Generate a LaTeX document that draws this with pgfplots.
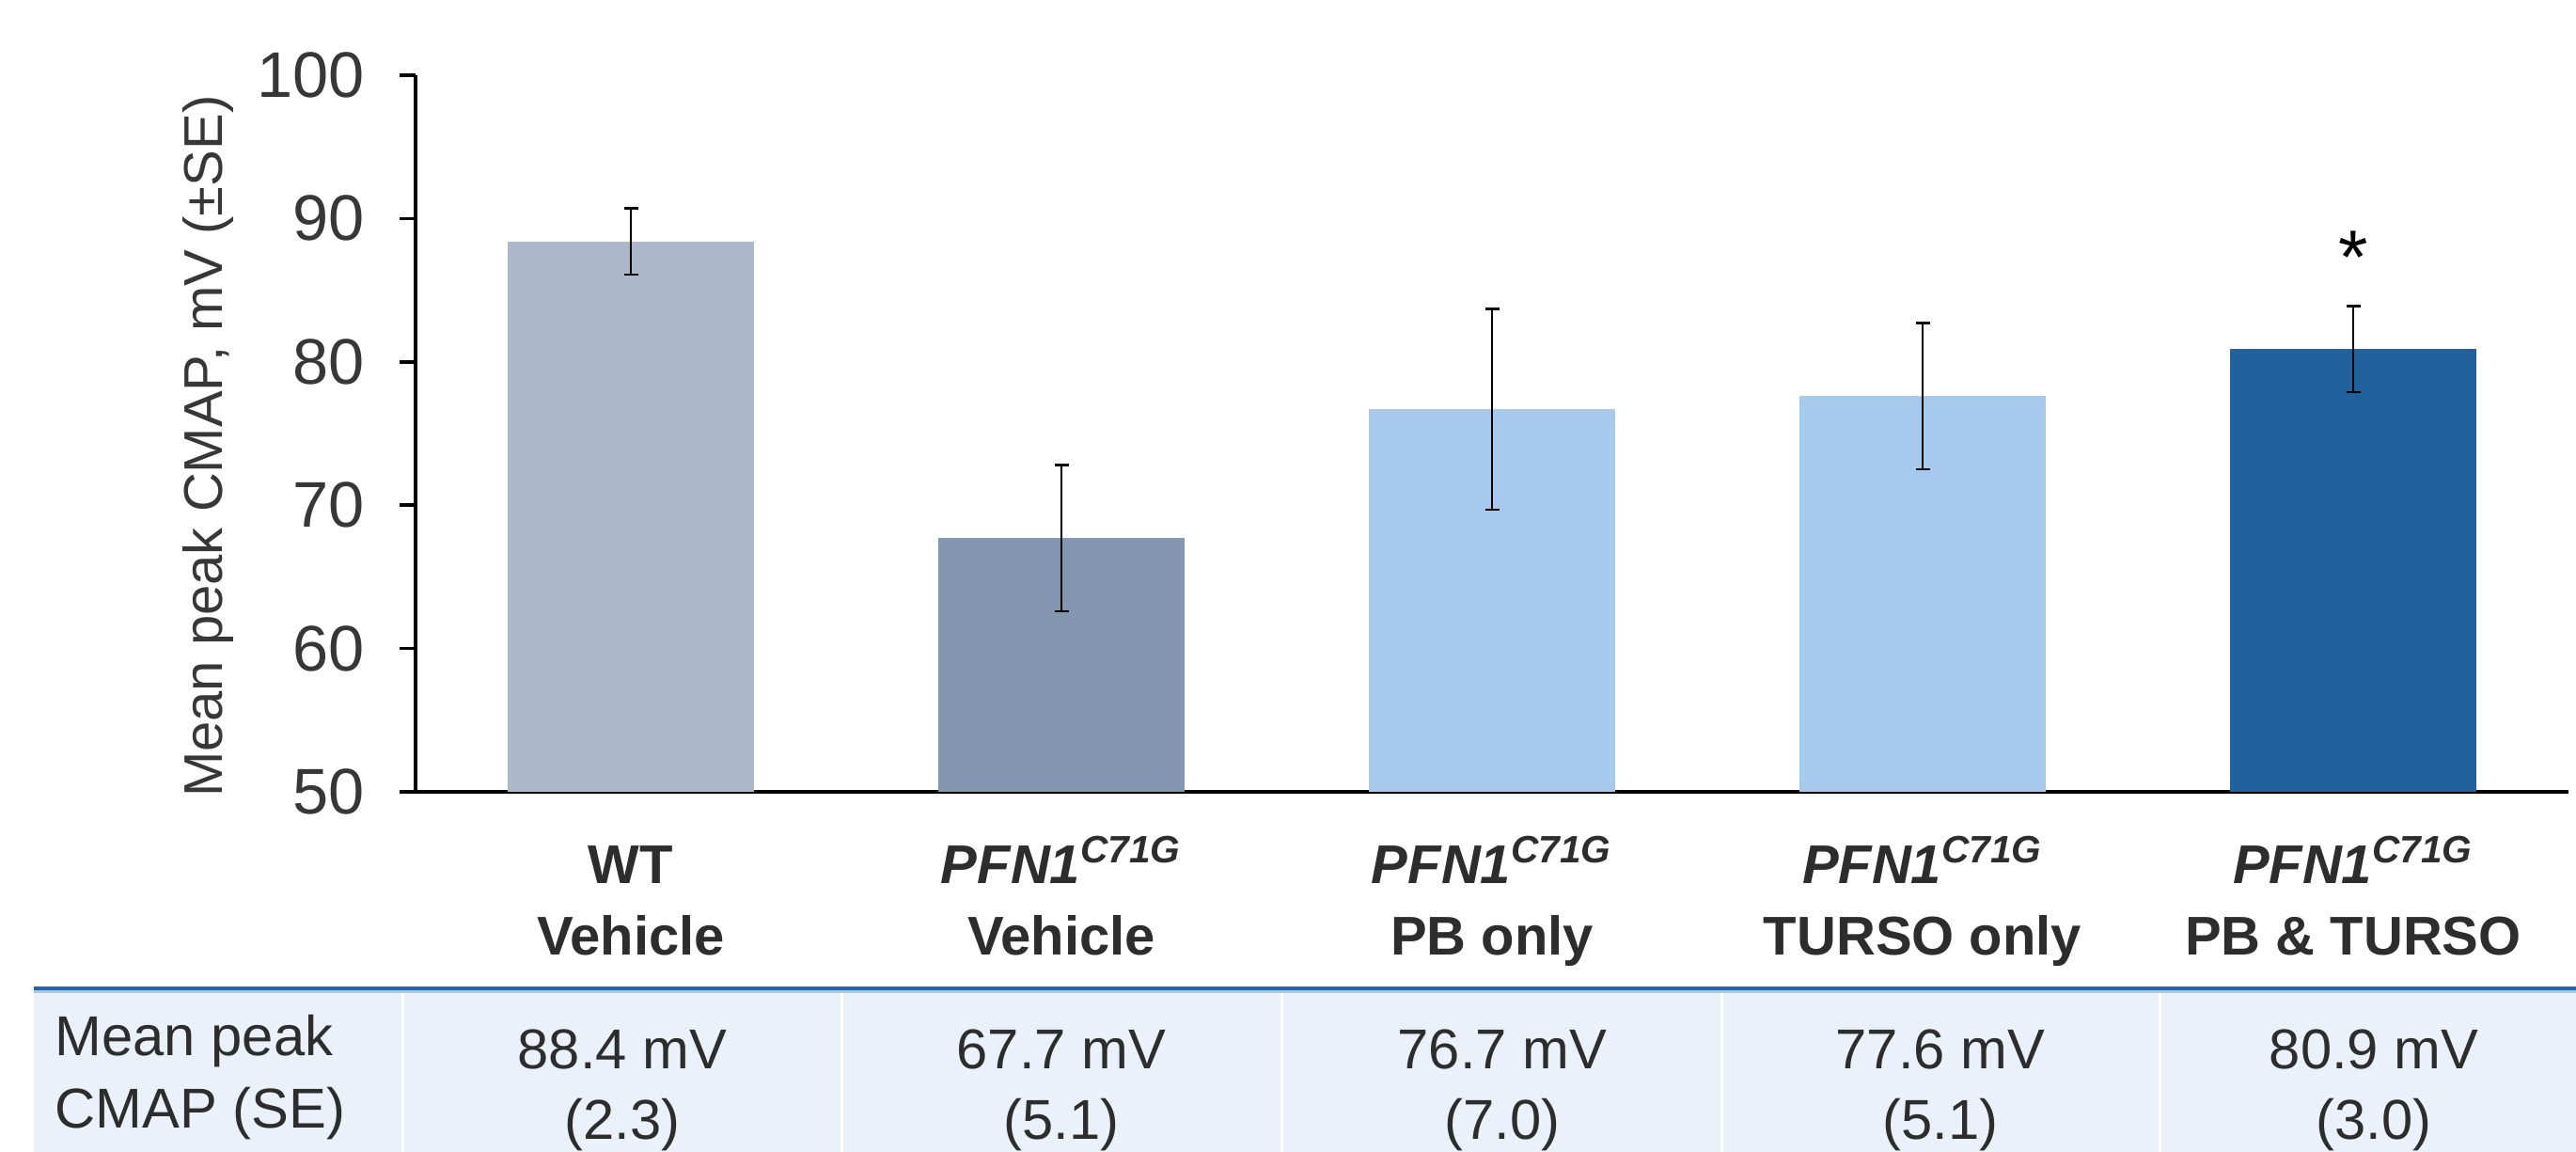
\documentclass[border=0pt]{standalone}
\usepackage{fontspec}
\setmainfont{Liberation Sans}
\setsansfont{Liberation Sans}
\usepackage{pgfplots}
\pgfplotsset{compat=1.18}

\definecolor{barA}{RGB}{173,185,202}
\definecolor{barB}{RGB}{132,151,176}
\definecolor{barC}{RGB}{167,201,237}
\definecolor{barD}{RGB}{33,97,158}
\definecolor{tblbg}{RGB}{234,241,250}
\definecolor{tblline}{RGB}{38,100,168}
\definecolor{txt}{RGB}{45,45,45}
\definecolor{ticktxt}{RGB}{55,55,55}

\newcommand{\catlab}[2]{\begin{tabular}[t]{@{}c@{}}#1\\#2\end{tabular}}
\newcommand{\pfn}{\textbf{\textit{PFN1}}\textsuperscript{\textbf{\textit{C71G}}}}
\newcommand{\fs}{\fontsize{16.5}{21.6}\selectfont}
\newcommand{\ft}{\fontsize{17}{21.6}\selectfont}

\begin{document}
\begin{tikzpicture}
\useasboundingbox (0,0) rectangle (274mm,122.5mm);
% table
\fill[tblbg] (3.6mm,0) rectangle (274mm,17.2mm);
\foreach \x in {42.8,89.5,136.3,183.1,229.7}
  \fill[white] (\x mm-0.15mm,0) rectangle (\x mm+0.15mm,17.2mm);
\draw[line width=0.25mm, barC] (3.6mm,17.05mm) -- (274mm,17.05mm);
\draw[line width=0.4mm, tblline] (3.6mm,17.4mm) -- (274mm,17.4mm);
\begin{scope}[every node/.style={text=txt, font=\ft, inner sep=0pt}]
\node[anchor=base west] at (5.8mm,10.2mm) {Mean peak};
\node[anchor=base west] at (5.8mm,2.5mm) {CMAP (SE)};
\node[anchor=base] at (66.2mm,8.8mm) {88.4 mV};
\node[anchor=base] at (66.2mm,1.3mm) {(2.3)};
\node[anchor=base] at (112.9mm,8.8mm) {67.7 mV};
\node[anchor=base] at (112.9mm,1.3mm) {(5.1)};
\node[anchor=base] at (159.8mm,8.8mm) {76.7 mV};
\node[anchor=base] at (159.8mm,1.3mm) {(7.0)};
\node[anchor=base] at (206.4mm,8.8mm) {77.6 mV};
\node[anchor=base] at (206.4mm,1.3mm) {(5.1)};
\node[anchor=base] at (252.5mm,8.8mm) {80.9 mV};
\node[anchor=base] at (252.5mm,1.3mm) {(3.0)};
\end{scope}

\begin{axis}[
  at={(44.2mm,38.3mm)}, anchor=south west,
  scale only axis, width=229mm, height=76.2mm,
  xmin=-0.5, xmax=4.5, ymin=50, ymax=100,
  ytick={50,60,70,80,90,100},
  xtick={0,1,2,3,4},
  xticklabels={{\catlab{\textbf{WT}}{\textbf{Vehicle}}},
               {\catlab{\pfn}{\textbf{Vehicle}}},
               {\catlab{\pfn}{\textbf{PB only}}},
               {\catlab{\pfn}{\textbf{TURSO only}}},
               {\catlab{\pfn}{\textbf{PB \& TURSO}}}},
  axis x line*=bottom, axis y line*=left,
  axis line style={-, line width=0.35mm, black},
  tick align=outside,
  major tick length=1.7mm,
  ytick style={line width=0.35mm, black},
  xtick style={draw=none},
  /pgf/number format/assume math mode=true,
  yticklabel style={font=\fontsize{19.5}{22}\selectfont, text=ticktxt, xshift=-2.5mm},
  xticklabel style={font=\fs, text=txt, anchor=base, yshift=-8.1mm},
  ylabel={Mean peak CMAP, mV (\textpm SE)},
  ylabel style={font=\fs, text=ticktxt, at={(axis description cs:-0.0965,0.482)}, anchor=center},
  ybar, bar width=26.2mm,
  clip=false,
]
\addplot[fill=barA, draw=none, bar shift=0pt,
  error bars/.cd, y dir=both, y explicit,
  error bar style={line width=0.25mm, black},
  error mark options={rotate=90, mark size=0.75mm, line width=0.25mm, black}]
  coordinates {(0,88.4) +- (0,2.3)};
\addplot[fill=barB, draw=none, bar shift=0pt,
  error bars/.cd, y dir=both, y explicit,
  error bar style={line width=0.25mm, black},
  error mark options={rotate=90, mark size=0.75mm, line width=0.25mm, black}]
  coordinates {(1,67.7) +- (0,5.1)};
\addplot[fill=barC, draw=none, bar shift=0pt,
  error bars/.cd, y dir=both, y explicit,
  error bar style={line width=0.25mm, black},
  error mark options={rotate=90, mark size=0.75mm, line width=0.25mm, black}]
  coordinates {(2,76.7) +- (0,7.0)};
\addplot[fill=barC, draw=none, bar shift=0pt,
  error bars/.cd, y dir=both, y explicit,
  error bar style={line width=0.25mm, black},
  error mark options={rotate=90, mark size=0.75mm, line width=0.25mm, black}]
  coordinates {(3,77.6) +- (0,5.1)};
\addplot[fill=barD, draw=none, bar shift=0pt,
  error bars/.cd, y dir=both, y explicit,
  error bar style={line width=0.25mm, black},
  error mark options={rotate=90, mark size=0.75mm, line width=0.25mm, black}]
  coordinates {(4,80.9) +- (0,3.0)};
\node[font=\fontsize{23}{23}\selectfont, text=black] at (axis cs:4,87.3) {*};
\end{axis}
\end{tikzpicture}
\end{document}
